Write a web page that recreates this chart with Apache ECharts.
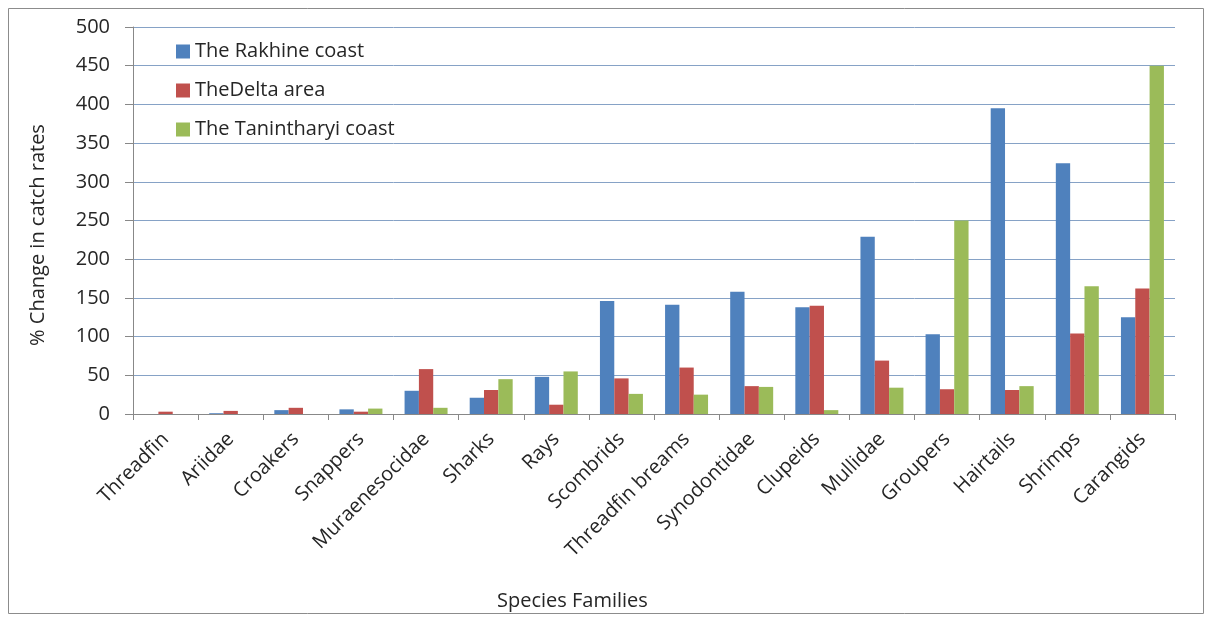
<!DOCTYPE html>
<html>
<head>
<meta charset="utf-8">
<script src="https://cdn.jsdelivr.net/npm/echarts@6/dist/echarts.min.js"></script>
<style>
  html, body { margin: 0; padding: 0; background: #fff; }
  #chart { width: 1210px; height: 619px; }
</style>
</head>
<body>
<div id="chart"></div>
<script>
  // data
  var families = ['Threadfin', 'Ariidae', 'Croakers', 'Snappers', 'Muraenesocidae', 'Sharks', 'Rays',
    'Scombrids', 'Threadfin breams', 'Synodontidae', 'Clupeids', 'Mullidae', 'Groupers',
    'Hairtails', 'Shrimps', 'Carangids'];
  var rakhine = [0, 1, 5, 6, 30, 21, 48, 146, 141, 158, 138, 229, 103, 395, 324, 125];
  var delta = [3, 4, 8, 3, 58, 31, 12, 46, 60, 36, 140, 69, 32, 31, 104, 162];
  var tanintharyi = [0, 0, 0, 7, 8, 45, 55, 26, 25, 35, 5, 34, 250, 36, 165, 450];
  var seriesNames = ['The Rakhine coast', 'TheDelta area', 'The Tanintharyi coast'];

  var font = '"Open Sans", "Liberation Sans", sans-serif';
  var txt = '#262626';
  var chart = echarts.init(document.getElementById('chart'));

  function bar(name, data, color) {
    return {
      name: name,
      type: 'bar',
      barGap: '0%',
      barCategoryGap: '34%',
      itemStyle: { color: color },
      data: data
    };
  }

  chart.setOption({
    animation: false,
    textStyle: { fontFamily: font },
    graphic: [{
      type: 'rect',
      shape: { x: 8.5, y: 8.5, width: 1195, height: 605 },
      style: { fill: 'none', stroke: '#8c8c8c', lineWidth: 1 },
      z: -1
    }, {
      // y axis title sits a bit below the middle of the plot
      type: 'text',
      x: 38,
      y: 235,
      rotation: Math.PI / 2,
      style: {
        text: '% Change in catch rates',
        font: '20px ' + font,
        fill: txt,
        align: 'center',
        verticalAlign: 'middle'
      }
    }],
    title: {
      text: 'Species Families',
      left: 492,
      top: 586,
      textStyle: { fontFamily: font, fontSize: 20, fontWeight: 'normal', color: txt }
    },
    legend: {
      orient: 'vertical',
      left: 171,
      top: 33,
      itemWidth: 14,
      itemHeight: 14,
      itemGap: 12,
      icon: 'rect',
      textStyle: { fontFamily: font, fontSize: 20, color: txt, lineHeight: 27 },
      data: seriesNames
    },
    grid: {
      left: 133,
      right: 35,
      top: 27,
      bottom: 205,
      containLabel: false
    },
    xAxis: {
      type: 'category',
      data: families,
      axisLine: { lineStyle: { color: '#888', width: 1 } },
      axisTick: { show: true, length: 6, lineStyle: { color: '#888' } },
      axisLabel: {
        rotate: 45,
        interval: 0,
        margin: 22,
        fontFamily: font,
        fontSize: 20,
        color: txt
      }
    },
    yAxis: {
      type: 'value',
      min: 0,
      max: 500,
      interval: 50,
      axisLine: { show: true, lineStyle: { color: '#888', width: 1 } },
      axisTick: { show: true, length: 8, inside: false, lineStyle: { color: '#888' } },
      axisLabel: { margin: 23, fontFamily: font, fontSize: 20, color: txt },
      splitLine: { lineStyle: { color: '#86a2c6', width: 1 } }
    },
    series: [
      bar(seriesNames[0], rakhine, '#4f81bd'),
      bar(seriesNames[1], delta, '#c0504d'),
      bar(seriesNames[2], tanintharyi, '#9bbb59')
    ]
  });
</script>
</body>
</html>
